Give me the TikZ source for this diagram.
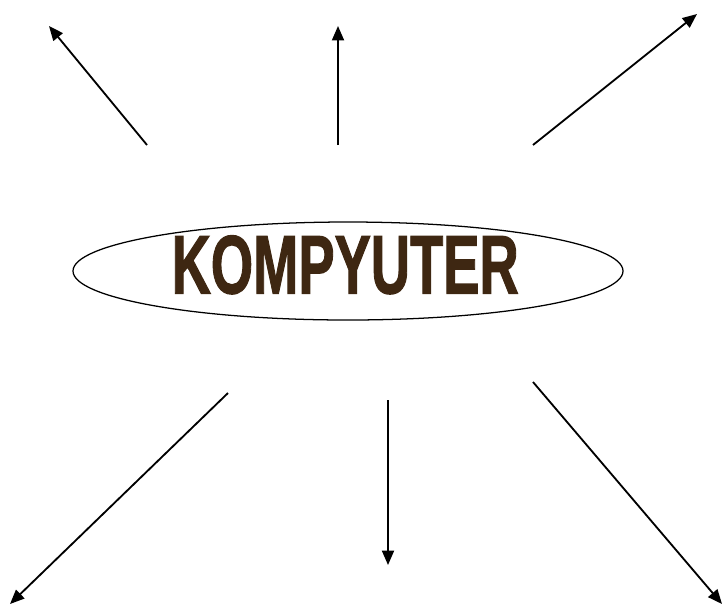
\documentclass[tikz,border=0pt]{standalone}
\usepackage{fontspec}
\usepackage{graphicx}
\usepackage{tikz}
\usetikzlibrary{arrows.meta,positioning,shapes.geometric}
\newfontfamily\kfont{Liberation Sans Bold}[FakeBold=1.6]
\definecolor{kbrown}{HTML}{3E2712}
\tikzset{
  ar/.style={-{Triangle[length=3.6mm,width=3mm]},line width=1.3pt,black},
  oval/.style={ellipse,draw,line width=0.9pt,minimum width=13.75cm,minimum height=2.45cm,inner sep=0pt},
  kw/.style={inner sep=0pt,text=kbrown,font=\kfont\fontsize{59}{60}\selectfont}
}
\begin{document}
\begin{tikzpicture}
\useasboundingbox (0,0) rectangle (18.075,-15.2);
\node[oval] (komp) at (8.7,-6.775) {};
\node[kw] (kword) at (8.63,-6.62) {\scalebox{0.655}[1]{KOMPYUTER}};
% arrow ends
\coordinate (tl0) at (3.675,-3.625); \coordinate (tl1) at (1.225,-0.65);
\coordinate (tm0) at (8.45,-3.625); \coordinate (tm1) at (8.45,-0.65);
\coordinate (tr0) at (13.325,-3.625); \coordinate (tr1) at (17.425,-0.35);
\coordinate (bl0) at (5.7,-9.825); \coordinate (bl1) at (0.25,-15.1);
\coordinate (bm0) at (9.7,-10.0); \coordinate (bm1) at (9.7,-14.125);
\coordinate (br0) at (13.325,-9.55); \coordinate (br1) at (18.05,-15.1);
\draw[ar] (tl0)--(tl1); \draw[ar] (tm0)--(tm1); \draw[ar] (tr0)--(tr1);
\draw[ar] (bl0)--(bl1); \draw[ar] (bm0)--(bm1); \draw[ar] (br0)--(br1);
\end{tikzpicture}
\end{document}
